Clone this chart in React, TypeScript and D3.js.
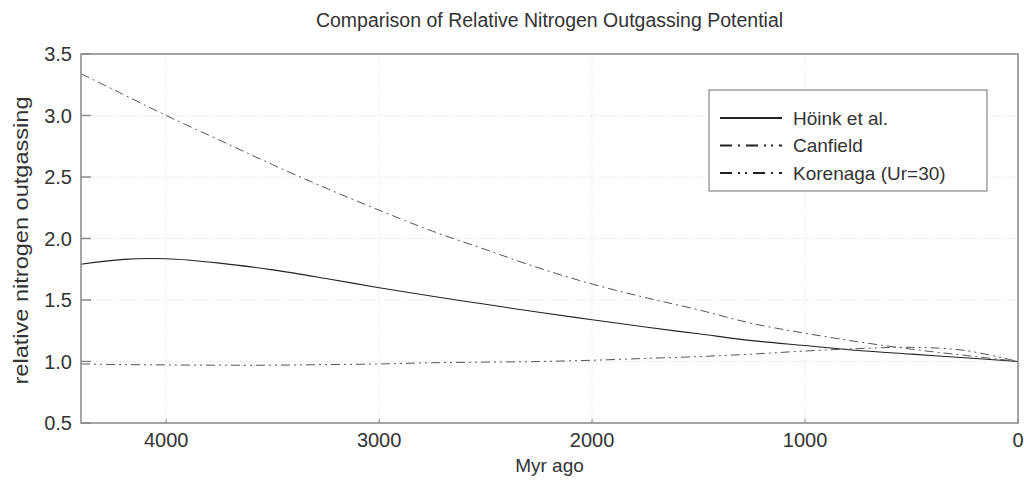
import React from "react";
import * as d3 from "d3";

const myrAgo = [4400, 4200, 4000, 3750, 3500, 3250, 3000, 2750, 2500, 2250, 2000, 1750, 1500, 1250, 1000, 750, 500, 250, 0];
const hoink = [1.79, 1.83, 1.835, 1.80, 1.745, 1.675, 1.60, 1.53, 1.465, 1.40, 1.34, 1.28, 1.225, 1.17, 1.13, 1.09, 1.06, 1.03, 1.0];
const canfield = [3.34, 3.17, 3.0, 2.80, 2.60, 2.41, 2.23, 2.06, 1.91, 1.76, 1.63, 1.52, 1.42, 1.31, 1.23, 1.16, 1.10, 1.05, 1.0];
const korenaga = [0.98, 0.975, 0.972, 0.97, 0.97, 0.975, 0.98, 0.99, 0.995, 1.0, 1.01, 1.025, 1.04, 1.06, 1.085, 1.105, 1.115, 1.09, 1.0];

const xTicks = [4000, 3000, 2000, 1000, 0];
const yTicks = [0.5, 1.0, 1.5, 2.0, 2.5, 3.0, 3.5];

const seriesNames = ["Höink et al.", "Canfield", "Korenaga (Ur=30)"];
const seriesData = [hoink, canfield, korenaga];
const seriesDash = ["none", "9,4,2,4", "9,4,2,4,2,4"];
const seriesColor = ["#222", "#555", "#555"];
const seriesWidth = [1.1, 1, 1];

const W = 1024, H = 481;
const left = 81, right = 1018, top = 54, bottom = 423;
const font = "'Liberation Sans', Arial, sans-serif";

export default function App() {
  const x = d3.scaleLinear().domain([4400, 0]).range([left, right]);
  const y = d3.scaleLinear().domain([0.5, 3.5]).range([bottom, top]);
  const line = d3.line<number>().x((_, i) => x(myrAgo[i])).y(d => y(d)).curve(d3.curveCatmullRom.alpha(0.5));

  return (
    <svg width={W} height={H} style={{ position: "absolute", left: 0, top: 0, background: "#fff" }}>
      <rect x={0} y={0} width={W} height={H} fill="#fff" />
      {xTicks.map(t => (
        <line key={"gx" + t} x1={x(t)} x2={x(t)} y1={top} y2={bottom} stroke="#ddd" strokeDasharray="1,2" strokeWidth={1} />
      ))}
      {yTicks.map(t => (
        <line key={"gy" + t} x1={left} x2={right} y1={y(t)} y2={y(t)} stroke="#ddd" strokeDasharray="1,2" strokeWidth={1} />
      ))}
      {seriesData.map((s, i) => (
        <path key={"s" + i} d={line(s) || ""} fill="none" stroke={seriesColor[i]} strokeWidth={seriesWidth[i]} strokeDasharray={seriesDash[i]} />
      ))}
      <rect x={left} y={top} width={right - left} height={bottom - top} fill="none" stroke="#888" strokeWidth={1.5} />
      {yTicks.map(t => (
        <g key={"ty" + t}>
          <line x1={left} x2={left + 10} y1={y(t)} y2={y(t)} stroke="#888" strokeWidth={1.5} />
          <text x={left - 9} y={y(t)} dy="0.36em" textAnchor="end" fontFamily={font} fontSize={20} fill="#333">{t.toFixed(1)}</text>
        </g>
      ))}
      {xTicks.map(t => (
        <g key={"tx" + t}>
          <line x1={x(t)} x2={x(t)} y1={bottom} y2={bottom - 4} stroke="#888" strokeWidth={1} />
          <text x={x(t)} y={bottom + 24} textAnchor="middle" fontFamily={font} fontSize={20} fill="#333">{t}</text>
        </g>
      ))}
      <text x={(left + right) / 2} y={27} textAnchor="middle" fontFamily={font} fontSize={19.5} fill="#333">Comparison of Relative Nitrogen Outgassing Potential</text>
      <text x={(left + right) / 2} y={472} textAnchor="middle" fontFamily={font} fontSize={19} fill="#333">Myr ago</text>
      <text transform={`translate(28,${(top + bottom) / 2 + 2}) rotate(-90)`} textAnchor="middle" fontFamily={font} fontSize={20} textLength={288} lengthAdjust="spacingAndGlyphs" fill="#333">relative nitrogen outgassing</text>
      <rect x={709} y={90} width={278} height={101} fill="#fff" stroke="#888" strokeWidth={1.2} />
      {seriesNames.map((n, i) => (
        <g key={"l" + i}>
          <line x1={720} x2={782} y1={118 + i * 27.5} y2={118 + i * 27.5} stroke="#222" strokeWidth={1.8} strokeDasharray={i === 0 ? "none" : i === 1 ? "12,6,2,6,12,6,2,5,2,6" : "12,6,2,5,2,6,12,6,2,6"} />
          <text x={793} y={118 + i * 27.5} dy="0.36em" fontFamily={font} fontSize={19} fill="#333">{n}</text>
        </g>
      ))}
    </svg>
  );
}
